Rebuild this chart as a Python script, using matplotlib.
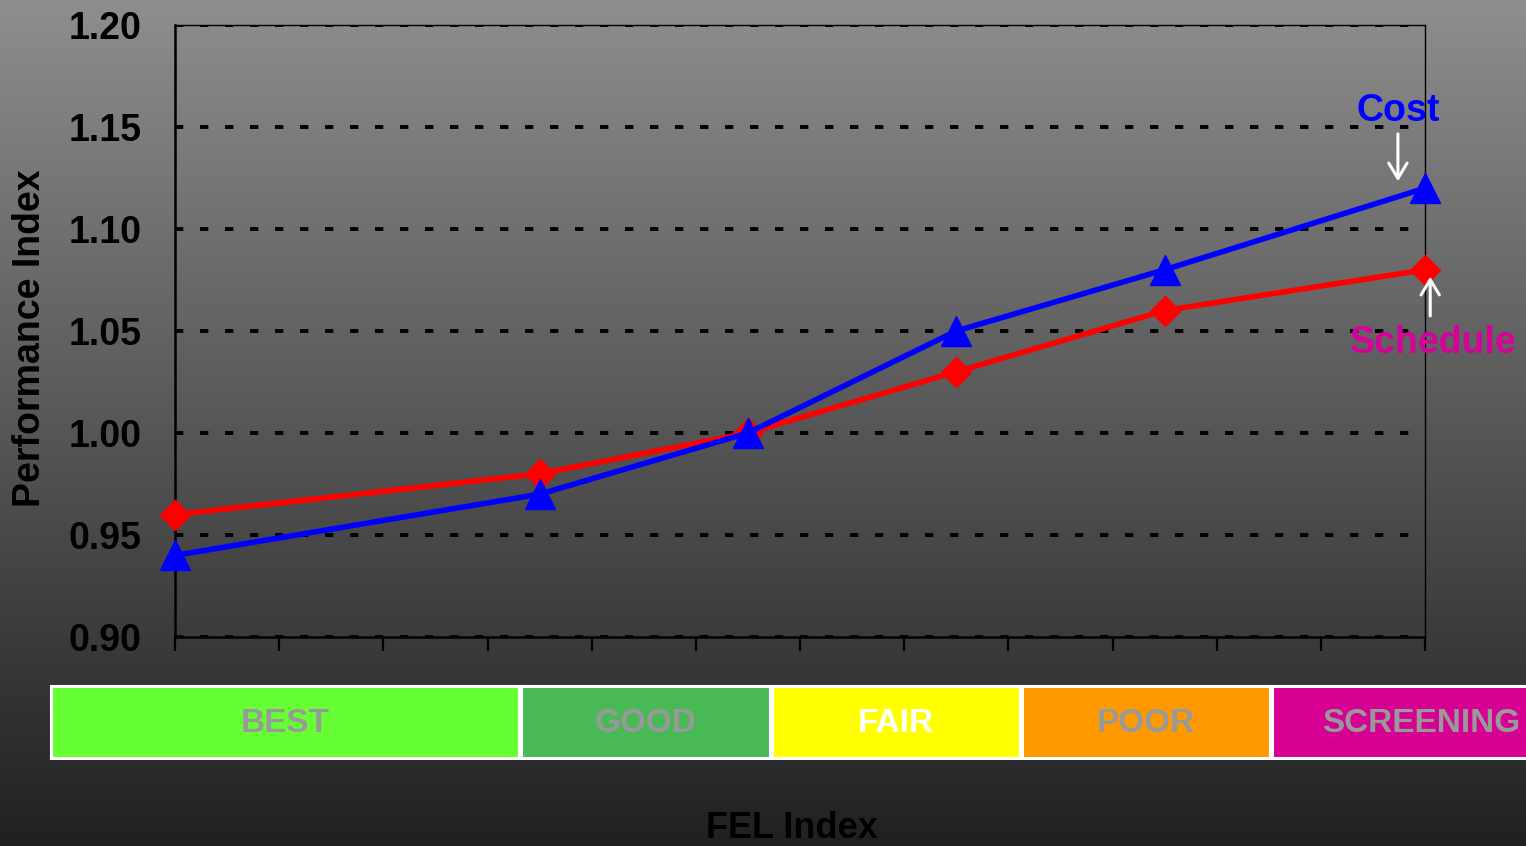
import matplotlib
matplotlib.use("Agg")
import matplotlib.pyplot as plt
import matplotlib.patches as patches
import numpy as np

plt.rcParams['font.family'] = ['Liberation Sans', 'DejaVu Sans']
plt.rcParams['lines.scale_dashes'] = False

# data
fel_x = [0, 3.5, 5.5, 7.5, 9.5, 12]
cost = [0.94, 0.97, 1.00, 1.05, 1.08, 1.12]
schedule = [0.96, 0.98, 1.00, 1.03, 1.06, 1.08]
y_ticks = [0.90, 0.95, 1.00, 1.05, 1.10, 1.15, 1.20]
bands = ["BEST", "GOOD", "FAIR", "POOR", "SCREENING"]
band_colors = ["#66ff33", "#48b955", "#ffff00", "#ff9900", "#d60093"]
band_text = ["#999999", "#999999", "#ffffff", "#999999", "#999999"]
# band edges in figure pixels (layout)
band_edges = [50, 520, 771, 1021, 1271, 1571]

W, H = 1526, 846
fig = plt.figure(figsize=(W / 100, H / 100), dpi=100)

# gradient background
bg = fig.add_axes([0, 0, 1, 1], zorder=-10)
grad = np.linspace(142, 32, 400).reshape(-1, 1) / 255.0
grad = np.repeat(grad, 3, axis=1).reshape(400, 1, 3)
bg.imshow(grad, aspect='auto', extent=[0, 1, 0, 1])
bg.axis('off')

ax = fig.add_axes([175 / W, 1 - 637 / H, (1425 - 175) / W, (637 - 25) / H])
ax.patch.set_alpha(0)
ax.plot(fel_x, schedule, color='#ff0000', lw=4, marker='D', ms=15,
        clip_on=False, zorder=3)
ax.plot(fel_x, cost, color='#0000ff', lw=4, marker='^', ms=21,
        clip_on=False, zorder=4)

ax.set_xlim(0, 12)
ax.set_ylim(0.90, 1.20)
ax.set_xticks(range(13))
ax.set_xticklabels([])
ax.set_yticks(y_ticks)
ax.set_yticklabels(["%.2f" % v for v in y_ticks], fontsize=27,
                   fontweight='bold', color='black')
ax.tick_params(axis='y', length=0, pad=24)
ax.tick_params(axis='x', length=10, width=1.6, direction='out', color='black')
ax.yaxis.grid(True, color='black', lw=2.8, linestyle=(0, (6, 12)))
ax.set_axisbelow(True)
for s in ['left', 'bottom']:
    ax.spines[s].set_linewidth(1.8)
for s in ['top', 'right']:
    ax.spines[s].set_linewidth(1.0)

fig.text(30 / W, 1 - 338 / H, "Performance Index", rotation=90, fontsize=27,
         fontweight='bold', ha='center', va='center', color='black')

ax.text(11.74, 1.158, "Cost", color='#0000ff', fontsize=27, fontweight='bold',
        ha='center', va='center', clip_on=False)
ax.text(12.08, 1.044, "Schedule", color='#d6009a', fontsize=27,
        fontweight='bold', ha='center', va='center', clip_on=False)
ax.annotate("", xy=(11.74, 1.122), xytext=(11.74, 1.148),
            arrowprops=dict(arrowstyle='->,head_length=0.5,head_width=0.3',
                            color='white', lw=2.2, mutation_scale=22),
            annotation_clip=False)
ax.annotate("", xy=(12.05, 1.078), xytext=(12.05, 1.056),
            arrowprops=dict(arrowstyle='->,head_length=0.5,head_width=0.3',
                            color='white', lw=2.2, mutation_scale=22),
            annotation_clip=False)

# colour bands under the axis
bax = fig.add_axes([0, 1 - 760 / H, 1, (760 - 684) / H])
bax.set_xlim(0, W)
bax.set_ylim(0, 1)
bax.axis('off')
for i, name in enumerate(bands):
    x0, x1 = band_edges[i], band_edges[i + 1]
    bax.add_patch(patches.Rectangle((x0 + 1, 0.03), x1 - x0 - 2, 0.94,
                                    facecolor=band_colors[i],
                                    edgecolor='white', lw=2.2))
    cx = min((x0 + x1) / 2, 1421)
    bax.text(cx, 0.48, name, color=band_text[i], fontsize=24,
             fontweight='bold', ha='center', va='center')

fig.text(792 / W, 1 - 828 / H, "FEL Index", fontsize=26, fontweight='bold',
         ha='center', va='center', color='black')

fig.savefig("out.png", dpi=100)
